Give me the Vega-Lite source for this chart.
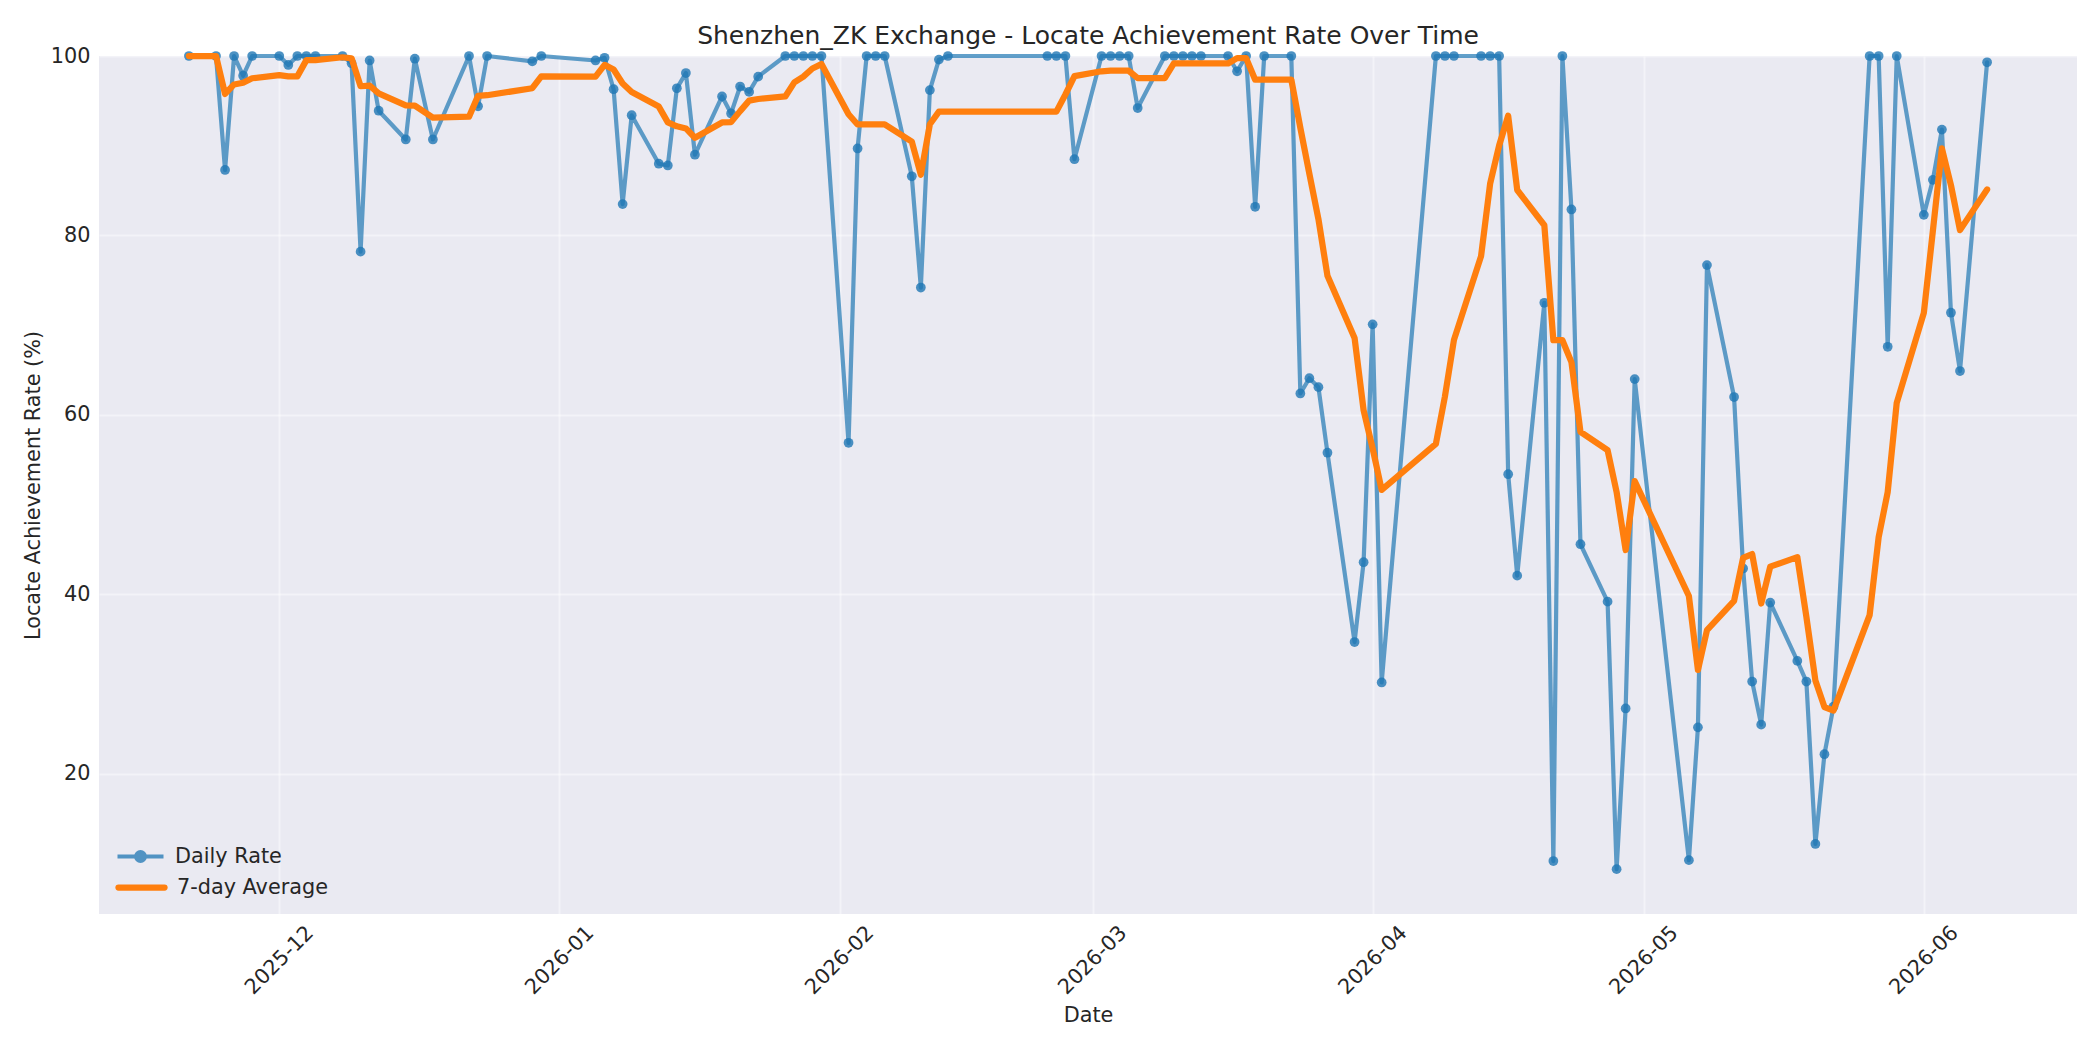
{
  "$schema": "https://vega.github.io/schema/vega-lite/v6.json",
  "width": 1978,
  "height": 858,
  "autosize": {"type": "none"},
  "padding": {"left": 99, "top": 56, "right": 23, "bottom": 136},
  "background": "white",
  "title": {
    "text": "Shenzhen_ZK Exchange - Locate Achievement Rate Over Time",
    "font": "DejaVu Sans",
    "fontSize": 25,
    "fontWeight": "normal",
    "color": "#262626",
    "anchor": "middle",
    "frame": "group",
    "offset": -4
  },
  "config": {
    "view": {"fill": "#EAEAF2", "stroke": null},
    "axis": {
      "domain": false,
      "ticks": false,
      "tickSize": 0,
      "grid": true,
      "gridColor": "#ffffff",
      "gridOpacity": 0.45,
      "gridWidth": 2,
      "labelFont": "DejaVu Sans",
      "labelFontSize": 20.8,
      "labelColor": "#262626",
      "titleFont": "DejaVu Sans",
      "titleFontSize": 20.8,
      "titleFontWeight": "normal",
      "titleColor": "#262626"
    },
    "legend": {
      "title": null,
      "orient": "bottom-left",
      "offset": 16,
      "padding": 0,
      "labelFont": "DejaVu Sans",
      "labelFontSize": 20.8,
      "labelColor": "#262626",
      "symbolSize": 2116,
      "clipHeight": 21,
      "labelOffset": 9,
      "layout": {
        "bottom-left": {"direction": "vertical", "margin": 10, "anchor": "start"}
      }
    }
  },
  "data": {
    "values": [
      {"date": "2025-11-21", "rate": 100, "avg": 100},
      {"date": "2025-11-24", "rate": 100, "avg": 100},
      {"date": "2025-11-25", "rate": 87.3, "avg": 95.77},
      {"date": "2025-11-26", "rate": 100, "avg": 96.83},
      {"date": "2025-11-27", "rate": 97.8, "avg": 97.02},
      {"date": "2025-11-28", "rate": 100, "avg": 97.52},
      {"date": "2025-12-01", "rate": 100, "avg": 97.87},
      {"date": "2025-12-02", "rate": 99.0, "avg": 97.73},
      {"date": "2025-12-03", "rate": 100, "avg": 97.73},
      {"date": "2025-12-04", "rate": 100, "avg": 99.54},
      {"date": "2025-12-05", "rate": 100, "avg": 99.54},
      {"date": "2025-12-08", "rate": 100, "avg": 99.86},
      {"date": "2025-12-09", "rate": 99.2, "avg": 99.74},
      {"date": "2025-12-10", "rate": 78.2, "avg": 96.63},
      {"date": "2025-12-11", "rate": 99.5, "avg": 96.70},
      {"date": "2025-12-12", "rate": 93.9, "avg": 95.83},
      {"date": "2025-12-15", "rate": 90.7, "avg": 94.50},
      {"date": "2025-12-16", "rate": 99.7, "avg": 94.46},
      {"date": "2025-12-18", "rate": 90.7, "avg": 93.13},
      {"date": "2025-12-22", "rate": 100, "avg": 93.24},
      {"date": "2025-12-23", "rate": 94.4, "avg": 95.56},
      {"date": "2025-12-24", "rate": 100, "avg": 95.63},
      {"date": "2025-12-29", "rate": 99.4, "avg": 96.41},
      {"date": "2025-12-30", "rate": 100, "avg": 97.74},
      {"date": "2026-01-05", "rate": 99.5, "avg": 97.71},
      {"date": "2026-01-06", "rate": 99.8, "avg": 99.01},
      {"date": "2026-01-07", "rate": 96.3, "avg": 98.49},
      {"date": "2026-01-08", "rate": 83.5, "avg": 96.93},
      {"date": "2026-01-09", "rate": 93.4, "avg": 95.99},
      {"date": "2026-01-12", "rate": 88.0, "avg": 94.36},
      {"date": "2026-01-13", "rate": 87.8, "avg": 92.61},
      {"date": "2026-01-14", "rate": 96.4, "avg": 92.17},
      {"date": "2026-01-15", "rate": 98.1, "avg": 91.93},
      {"date": "2026-01-16", "rate": 89.0, "avg": 90.89},
      {"date": "2026-01-19", "rate": 95.5, "avg": 92.60},
      {"date": "2026-01-20", "rate": 93.6, "avg": 92.63},
      {"date": "2026-01-21", "rate": 96.6, "avg": 93.86},
      {"date": "2026-01-22", "rate": 96.0, "avg": 95.03},
      {"date": "2026-01-23", "rate": 97.7, "avg": 95.21},
      {"date": "2026-01-26", "rate": 100, "avg": 95.49},
      {"date": "2026-01-27", "rate": 100, "avg": 97.06},
      {"date": "2026-01-28", "rate": 100, "avg": 97.70},
      {"date": "2026-01-29", "rate": 100, "avg": 98.61},
      {"date": "2026-01-30", "rate": 100, "avg": 99.10},
      {"date": "2026-02-02", "rate": 56.9, "avg": 93.51},
      {"date": "2026-02-03", "rate": 89.7, "avg": 92.37},
      {"date": "2026-02-04", "rate": 100, "avg": 92.37},
      {"date": "2026-02-05", "rate": 100, "avg": 92.37},
      {"date": "2026-02-06", "rate": 100, "avg": 92.37},
      {"date": "2026-02-09", "rate": 86.6, "avg": 90.46},
      {"date": "2026-02-10", "rate": 74.2, "avg": 86.77},
      {"date": "2026-02-11", "rate": 96.2, "avg": 92.39},
      {"date": "2026-02-12", "rate": 99.6, "avg": 93.80},
      {"date": "2026-02-13", "rate": 100, "avg": 93.80},
      {"date": "2026-02-24", "rate": 100, "avg": 93.80},
      {"date": "2026-02-25", "rate": 100, "avg": 93.80},
      {"date": "2026-02-26", "rate": 100, "avg": 95.71},
      {"date": "2026-02-27", "rate": 88.5, "avg": 97.76},
      {"date": "2026-03-02", "rate": 100, "avg": 98.30},
      {"date": "2026-03-03", "rate": 100, "avg": 98.36},
      {"date": "2026-03-04", "rate": 100, "avg": 98.36},
      {"date": "2026-03-05", "rate": 100, "avg": 98.36},
      {"date": "2026-03-06", "rate": 94.2, "avg": 97.53},
      {"date": "2026-03-09", "rate": 100, "avg": 97.53},
      {"date": "2026-03-10", "rate": 100, "avg": 99.17},
      {"date": "2026-03-11", "rate": 100, "avg": 99.17},
      {"date": "2026-03-12", "rate": 100, "avg": 99.17},
      {"date": "2026-03-13", "rate": 100, "avg": 99.17},
      {"date": "2026-03-16", "rate": 100, "avg": 99.17},
      {"date": "2026-03-17", "rate": 98.3, "avg": 99.76},
      {"date": "2026-03-18", "rate": 100, "avg": 99.76},
      {"date": "2026-03-19", "rate": 83.2, "avg": 97.36},
      {"date": "2026-03-20", "rate": 100, "avg": 97.36},
      {"date": "2026-03-23", "rate": 100, "avg": 97.36},
      {"date": "2026-03-24", "rate": 62.4, "avg": 91.99},
      {"date": "2026-03-25", "rate": 64.1, "avg": 86.86},
      {"date": "2026-03-26", "rate": 63.1, "avg": 81.83},
      {"date": "2026-03-27", "rate": 55.8, "avg": 75.51},
      {"date": "2026-03-30", "rate": 34.7, "avg": 68.59},
      {"date": "2026-03-31", "rate": 43.6, "avg": 60.53},
      {"date": "2026-04-01", "rate": 70.1, "avg": 56.26},
      {"date": "2026-04-02", "rate": 30.2, "avg": 51.66},
      {"date": "2026-04-08", "rate": 100, "avg": 56.79},
      {"date": "2026-04-09", "rate": 100, "avg": 62.06},
      {"date": "2026-04-10", "rate": 100, "avg": 68.37},
      {"date": "2026-04-13", "rate": 100, "avg": 77.70},
      {"date": "2026-04-14", "rate": 100, "avg": 85.76},
      {"date": "2026-04-15", "rate": 100, "avg": 90.03},
      {"date": "2026-04-16", "rate": 53.4, "avg": 93.34},
      {"date": "2026-04-17", "rate": 42.1, "avg": 85.07},
      {"date": "2026-04-20", "rate": 72.5, "avg": 81.14},
      {"date": "2026-04-21", "rate": 10.3, "avg": 68.33},
      {"date": "2026-04-22", "rate": 100, "avg": 68.33},
      {"date": "2026-04-23", "rate": 82.9, "avg": 65.89},
      {"date": "2026-04-24", "rate": 45.6, "avg": 58.11},
      {"date": "2026-04-27", "rate": 39.2, "avg": 56.09},
      {"date": "2026-04-28", "rate": 9.4, "avg": 51.41},
      {"date": "2026-04-29", "rate": 27.3, "avg": 44.96},
      {"date": "2026-04-30", "rate": 64.0, "avg": 52.63},
      {"date": "2026-05-06", "rate": 10.4, "avg": 39.83},
      {"date": "2026-05-07", "rate": 25.2, "avg": 31.59},
      {"date": "2026-05-08", "rate": 76.7, "avg": 36.03},
      {"date": "2026-05-11", "rate": 62.0, "avg": 39.29},
      {"date": "2026-05-12", "rate": 42.9, "avg": 44.07},
      {"date": "2026-05-13", "rate": 30.3, "avg": 44.50},
      {"date": "2026-05-14", "rate": 25.5, "avg": 39.00},
      {"date": "2026-05-15", "rate": 39.1, "avg": 43.10},
      {"date": "2026-05-18", "rate": 32.6, "avg": 44.16},
      {"date": "2026-05-19", "rate": 30.3, "avg": 37.53},
      {"date": "2026-05-20", "rate": 12.2, "avg": 30.41},
      {"date": "2026-05-21", "rate": 22.2, "avg": 27.46},
      {"date": "2026-05-22", "rate": 27.5, "avg": 27.06},
      {"date": "2026-05-26", "rate": 100, "avg": 37.70},
      {"date": "2026-05-27", "rate": 100, "avg": 46.40},
      {"date": "2026-05-28", "rate": 67.6, "avg": 51.40},
      {"date": "2026-05-29", "rate": 100, "avg": 61.36},
      {"date": "2026-06-01", "rate": 82.3, "avg": 71.37},
      {"date": "2026-06-02", "rate": 86.2, "avg": 80.51},
      {"date": "2026-06-03", "rate": 91.8, "avg": 89.70},
      {"date": "2026-06-04", "rate": 71.4, "avg": 85.61},
      {"date": "2026-06-05", "rate": 64.9, "avg": 80.60},
      {"date": "2026-06-08", "rate": 99.3, "avg": 85.13}
    ]
  },
  "layer": [
    {
      "mark": {
        "type": "line",
        "strokeWidth": 4.2,
        "opacity": 0.7,
        "strokeJoin": "round",
        "strokeCap": "round",
        "point": {"filled": true, "size": 95, "opacity": 0.8}
      },
      "encoding": {
        "x": {
          "field": "date",
          "type": "temporal",
          "scale": {
            "type": "utc",
            "domain": [
              {"year": 2025, "month": 11, "date": 11, "hours": 1, "minutes": 12, "utc": true},
              {"year": 2026, "month": 6, "date": 17, "hours": 22, "minutes": 48, "utc": true}
            ]
          },
          "axis": {
            "title": "Date",
            "values": [
              {"year": 2025, "month": 12, "date": 1, "utc": true},
              {"year": 2026, "month": 1, "date": 1, "utc": true},
              {"year": 2026, "month": 2, "date": 1, "utc": true},
              {"year": 2026, "month": 3, "date": 1, "utc": true},
              {"year": 2026, "month": 4, "date": 1, "utc": true},
              {"year": 2026, "month": 5, "date": 1, "utc": true},
              {"year": 2026, "month": 6, "date": 1, "utc": true}
            ],
            "labelExpr": "utcFormat(datum.value, '%Y-%m')",
            "labelAngle": -45,
            "labelAlign": "center",
            "labelBaseline": "middle",
            "labelPadding": 46,
            "titlePadding": 8
          }
        },
        "y": {
          "field": "rate",
          "type": "quantitative",
          "scale": {"domain": [4.4, 100], "nice": false, "zero": false},
          "axis": {
            "title": "Locate Achievement Rate (%)",
            "values": [20, 40, 60, 80, 100],
            "labelPadding": 9,
            "titlePadding": 7
          }
        },
        "color": {
          "datum": "Daily Rate",
          "type": "nominal",
          "scale": {"domain": ["Daily Rate"], "range": ["#1f77b4"]},
          "legend": {
            "symbolType": "M-1,0H1M-0.19,0A0.19,0.19,0,1,0,0.19,0A0.19,0.19,0,1,0,-0.19,0Z",
            "symbolStrokeWidth": 4.2,
            "symbolFillColor": "#1f77b4",
            "symbolOpacity": 0.75,
            "encode": {
              "symbols": {
                "update": {
                  "fill": {"value": "#1f77b4"},
                  "strokeWidth": {"value": 4.2}
                }
              }
            }
          }
        }
      }
    },
    {
      "mark": {"type": "line", "strokeWidth": 6.25, "strokeJoin": "round", "strokeCap": "round"},
      "encoding": {
        "x": {"field": "date", "type": "temporal"},
        "y": {"field": "avg", "type": "quantitative"},
        "stroke": {
          "datum": "7-day Average",
          "type": "nominal",
          "scale": {"domain": ["7-day Average"], "range": ["#ff7f0e"]},
          "legend": {
            "symbolType": "stroke",
            "symbolStrokeWidth": 6.25,
            "encode": {
              "symbols": {
                "update": {
                  "strokeWidth": {"value": 6.25},
                  "strokeCap": {"value": "round"}
                }
              }
            }
          }
        }
      }
    }
  ]
}
